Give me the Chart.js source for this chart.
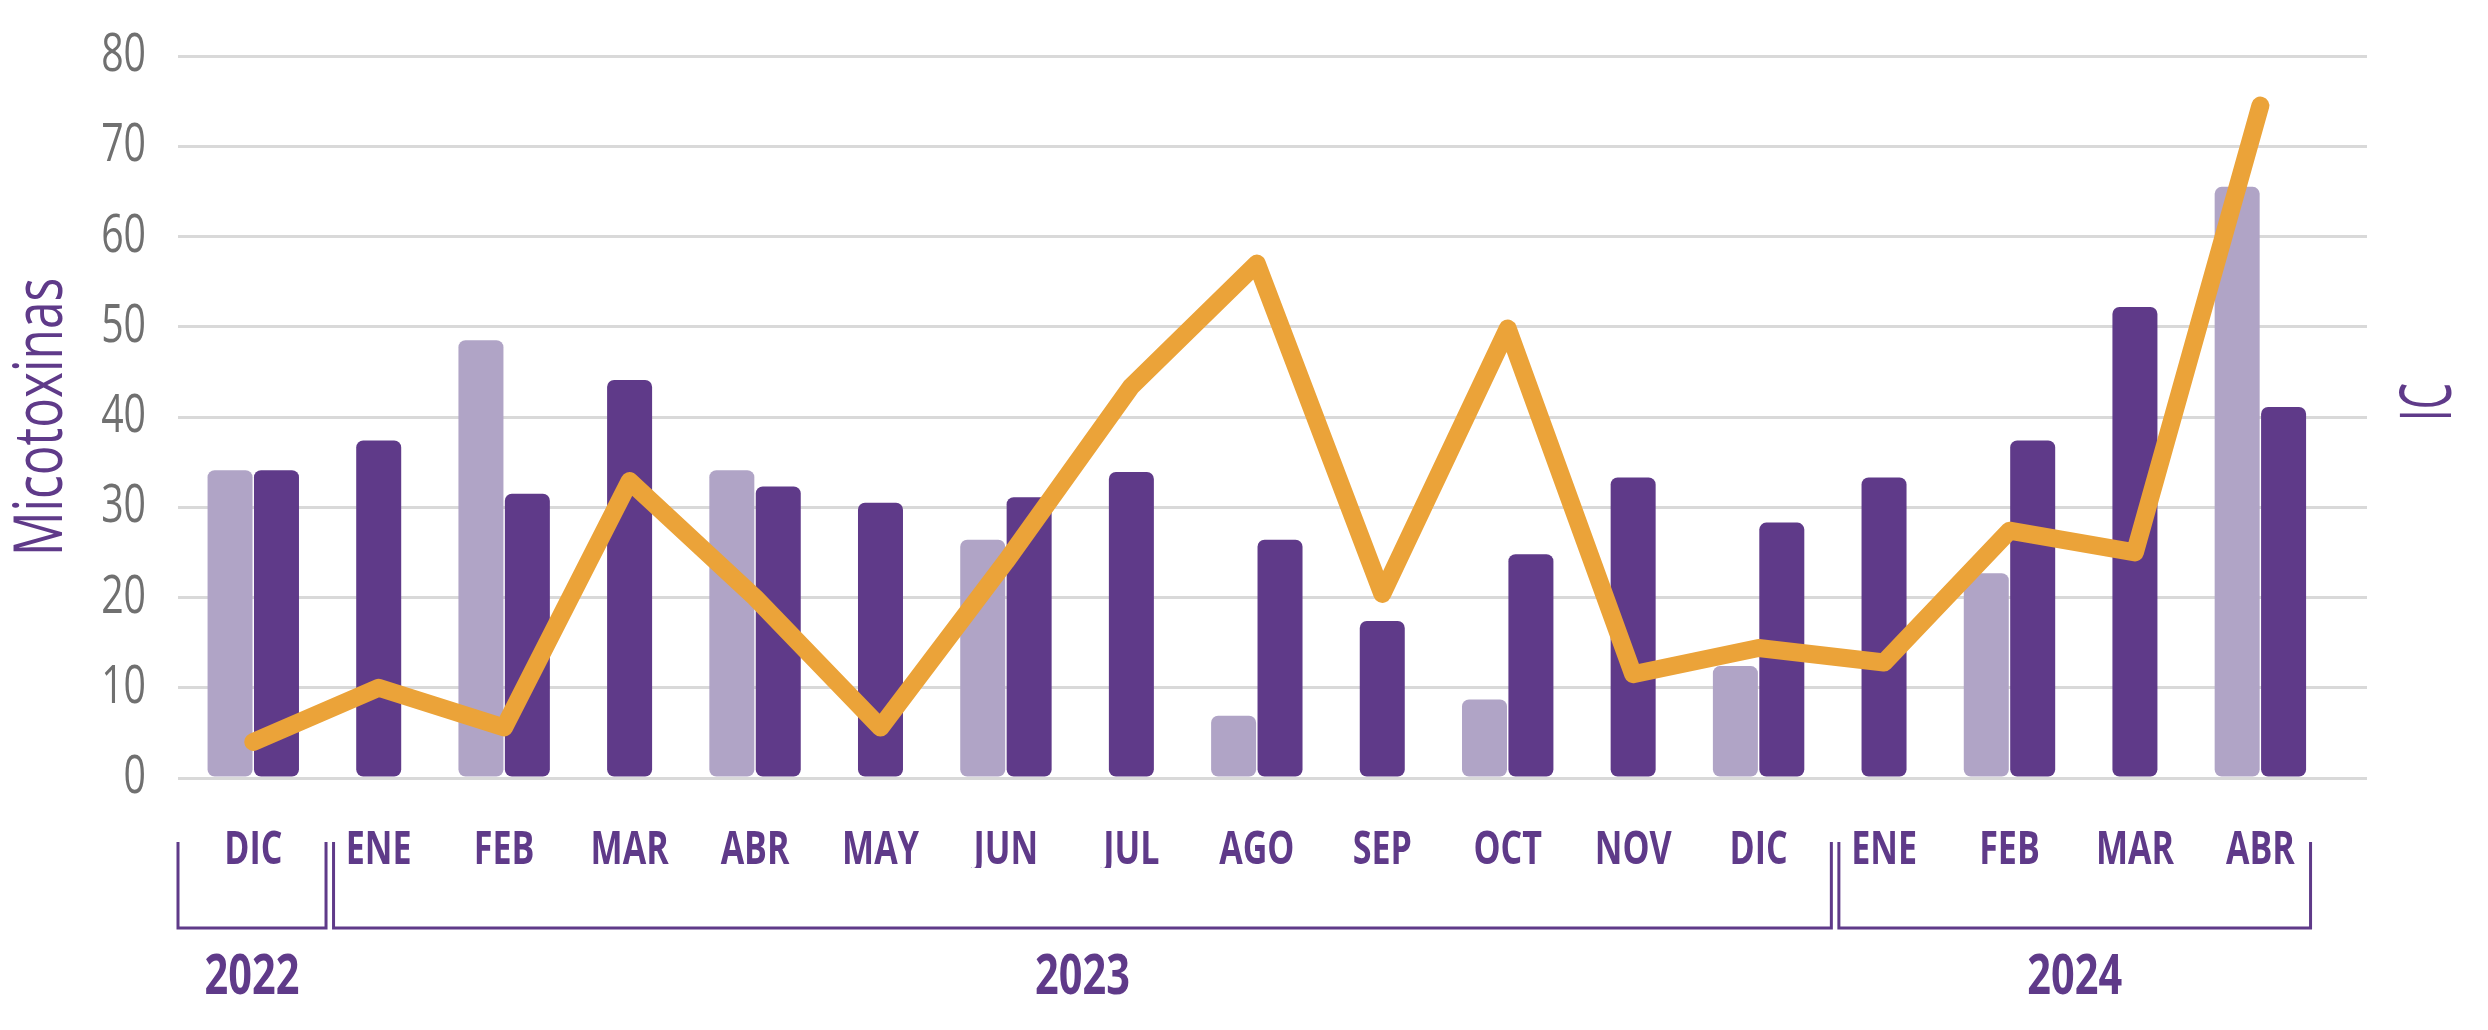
<!DOCTYPE html>
<html>
<head>
<meta charset="utf-8">
<script src="https://cdn.jsdelivr.net/npm/chart.js@4.4.1/dist/chart.umd.min.js"></script>
<style>
  body { margin: 0; background: #fff; }
  #wrap { width: 2488px; height: 1030px; }
</style>
</head>
<body>
<div id="wrap"><canvas id="chart"></canvas></div>
<script>
// ================= DATA =================
const months = ["DIC", "ENE", "FEB", "MAR", "ABR", "MAY", "JUN", "JUL", "AGO",
  "SEP", "OCT", "NOV", "DIC", "ENE", "FEB", "MAR", "ABR"];
const lightBars = [34.1, null, 48.5, null, 34.1, null, 26.4, null, 6.9,
  null, 8.7, null, 12.4, null, 22.7, null, 65.5];
const darkBars = [34.1, 37.4, 31.5, 44.1, 32.3, 30.5, 31.1, 33.9, 26.4,
  17.4, 24.8, 33.3, 28.3, 33.3, 37.4, 52.2, 41.1];
const icLine = [4.0, 10.0, 5.6, 32.9, 20.0, 5.6, 24.0, 43.4, 57.0,
  20.4, 49.8, 11.5, 14.4, 12.8, 27.4, 25.0, 74.5];
const yTicks = [0, 10, 20, 30, 40, 50, 60, 70, 80];

const years = ["2022", "2023", "2024"];
const yearFirst = [0, 1, 13];
const yearLast = [0, 12, 16];

// ================= STYLE =================
const purple = "#5f3a89";
const lilac = "#b0a4c6";
const orange = "#eba339";
const font = "'Open Sans', 'Noto Sans', sans-serif";
const condense = 0.74; // no condensed font installed: squeeze text horizontally

const canvas = document.getElementById("chart");
const ctx2d = canvas.getContext("2d");
const rawFillText = ctx2d.fillText;
ctx2d.fillText = function (text, x, y, maxWidth) {
  const w = this.measureText(text).width * condense;
  rawFillText.call(this, text, x, y, maxWidth === undefined ? w : Math.min(w, maxWidth));
};

const toPoints = arr => arr.map((v, i) => ({ x: i, y: v }));

// brackets + year labels under the month ticks, and the "IC" label
const extras = {
  id: "extras",
  afterDraw(chart) {
    const { ctx, chartArea, scales: { x } } = chart;
    ctx.save();
    ctx.strokeStyle = purple;
    ctx.fillStyle = purple;
    ctx.lineWidth = 3;
    ctx.textAlign = "center";
    ctx.textBaseline = "middle";
    ctx.font = "bold 56px " + font;

    const top = 842, bottom = 928;
    years.forEach((yr, i) => {
      const left = x.getPixelForValue(yearFirst[i] - (i === 0 ? 0.6 : 0.36));
      const right = x.getPixelForValue(yearLast[i] + (i === years.length - 1 ? 0.4 : 0.58));
      ctx.beginPath();
      ctx.moveTo(left, top);
      ctx.lineTo(left, bottom);
      ctx.lineTo(right, bottom);
      ctx.lineTo(right, top);
      ctx.stroke();
      ctx.fillText(yr, (left + right) / 2, 978);
    });

    // right axis label
    ctx.font = "72px " + font;
    ctx.translate(chartArea.right + 63, (chartArea.top + chartArea.bottom) / 2 - 15);
    ctx.rotate(-Math.PI / 2);
    ctx.fillText("IC", 0, 0, 38);
    ctx.restore();
  }
};

// ================= CHART =================
new Chart(canvas, {
  type: "bar",
  data: {
    datasets: [
      {
        type: "line",
        label: "IC",
        data: toPoints(icLine),
        borderColor: orange,
        borderWidth: 18,
        borderCapStyle: "round",
        borderJoinStyle: "round",
        pointRadius: 0,
        tension: 0,
        order: 0
      },
      {
        label: "Micotoxinas A",
        data: toPoints(lightBars),
        backgroundColor: lilac,
        order: 1
      },
      {
        label: "Micotoxinas B",
        data: toPoints(darkBars),
        backgroundColor: purple,
        order: 1
      }
    ]
  },
  options: {
    responsive: true,
    maintainAspectRatio: false,
    animation: false,
    layout: { padding: { top: 56, right: 121, bottom: 162, left: 0 } },
    datasets: {
      bar: {
        skipNull: true,
        barPercentage: 0.98,
        categoryPercentage: 0.74,
        maxBarThickness: 45,
        borderRadius: 7,
        borderSkipped: false
      }
    },
    plugins: {
      legend: { display: false },
      tooltip: { enabled: false }
    },
    scales: {
      x: {
        type: "linear",
        offset: false,
        min: -0.6,
        max: months.length - 0.15,
        grid: { display: false },
        border: { display: false },
        afterBuildTicks: scale => {
          scale.ticks = months.map((m, i) => ({ value: i }));
        },
        afterFit: scale => { scale.height = 90; },
        ticks: {
          autoSkip: false,
          maxRotation: 0,
          padding: 37,
          color: purple,
          font: { family: font, size: 46, weight: "bold" },
          callback: value => months[value]
        }
      },
      y: {
        min: 0,
        max: 80,
        afterBuildTicks: scale => {
          scale.ticks = yTicks.map(v => ({ value: v }));
        },
        afterFit: scale => {
          scale.width = 178;
          scale.paddingTop = 30; // tick padding is horizontal only here
        },
        grid: { color: "#d9d9d9", lineWidth: 3, drawTicks: false },
        border: { display: false },
        ticks: {
          padding: 32,
          color: "#707070",
          font: { family: font, size: 53 }
        },
        title: {
          display: true,
          text: "Micotoxinas",
          color: purple,
          font: { family: font, size: 67, lineHeight: 1 },
          padding: { top: 9, bottom: 26 }
        }
      }
    }
  },
  plugins: [extras]
});
</script>
</body>
</html>
